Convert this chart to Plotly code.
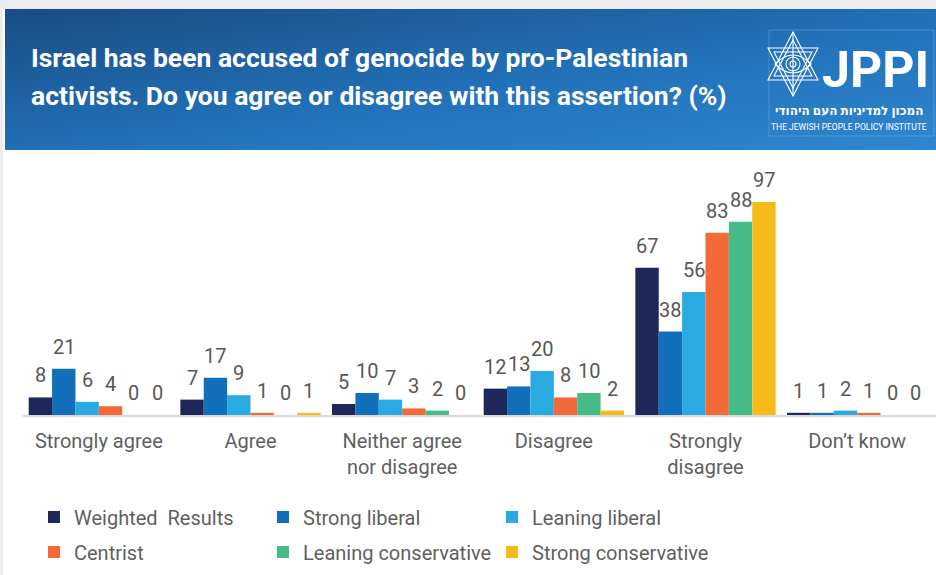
import base64
import plotly.graph_objects as go

W, H = 936, 575

categories = ["Strongly agree", "Agree", "Neither agree<br>nor disagree",
              "Disagree", "Strongly<br>disagree", "Don’t know"]

weighted_results = [8, 7, 5, 12, 67, 1]
strong_liberal = [21, 17, 10, 13, 38, 1]
leaning_liberal = [6, 9, 7, 20, 56, 2]
centrist = [4, 1, 3, 8, 83, 1]
leaning_conservative = [0, 0, 2, 10, 88, 0]
strong_conservative = [0, 1, 0, 2, 97, 0]

series_names = ["Weighted  Results", "Strong liberal", "Leaning liberal",
                "Centrist", "Leaning conservative", "Strong conservative"]
series_values = [weighted_results, strong_liberal, leaning_liberal,
                 centrist, leaning_conservative, strong_conservative]
series_colors = ["#1e2759", "#1170b9", "#29abe2", "#f26a38", "#47bb87", "#f5bb1b"]

# plot area in pixels
L, R, T, B = 23, 933, 160, 415
PX_PER_UNIT = 2.197
Y_MAX = (B - T) / PX_PER_UNIT
BARGAP = 0.075


def px(x):
    return (x - L) / (R - L)


def py(y):
    return (B - y) / (B - T)


fig = go.Figure()
for i, (name, vals, col) in enumerate(zip(series_names, series_values, series_colors)):
    fig.add_trace(go.Bar(
        x=categories, y=vals, name=name,
        marker=dict(color=col, line=dict(width=0)),
        legend="legend" if i < 3 else "legend2",
        hoverinfo="x+y+name",
    ))

# value labels above each bar, offset to the bar's slot within its group
n_series = len(series_values)
slot_px = (R - L) / len(categories) * (1 - BARGAP) / n_series
label_annotations = []
for i, vals in enumerate(series_values):
    for cat, v in zip(categories, vals):
        label_annotations.append(dict(
            text=str(v), x=cat, y=v, xref="x", yref="y",
            xanchor="center", yanchor="bottom", showarrow=False,
            xshift=(i - (n_series - 1) / 2) * slot_px, yshift=8,
            font=dict(family="Roboto", size=20, color="#575757"),
        ))

# header gradient band
svg = (
    "<svg xmlns='http://www.w3.org/2000/svg' width='931' height='141' viewBox='0 0 931 141' "
    "preserveAspectRatio='none'>"
    "<defs><linearGradient id='g' x1='0' y1='0' x2='1' y2='1'>"
    "<stop offset='0' stop-color='#1a4c84'/>"
    "<stop offset='0.55' stop-color='#2272ba'/>"
    "<stop offset='1' stop-color='#2f87d0'/>"
    "</linearGradient></defs>"
    "<rect width='931' height='141' fill='url(#g)'/>"
    "</svg>"
)
star_svg = (
    "<svg xmlns='http://www.w3.org/2000/svg' width='52' height='66' viewBox='0 0 52 66'>"
    "<g fill='none' stroke='white' stroke-width='1.1'>"
    "<polygon points='26,1 51,49 1,49'/>"
    "<polygon points='26,65 51,17 1,17'/>"
    "<polygon points='26,9 45,45 7,45'/>"
    "<polygon points='26,57 45,21 7,21'/>"
    "<path d='M8,33 Q26,15 44,33 Q26,51 8,33 Z'/>"
    "<circle cx='26' cy='33' r='7'/>"
    "<circle cx='26' cy='33' r='3'/>"
    "<line x1='26' y1='1' x2='26' y2='65'/>"
    "</g></svg>"
)


def data_uri(s):
    return "data:image/svg+xml;base64," + base64.b64encode(s.encode()).decode()


fig.add_layout_image(dict(
    source=data_uri(svg), xref="paper", yref="paper",
    x=px(5), y=py(9), sizex=px(936) - px(5), sizey=py(9) - py(150),
    xanchor="left", yanchor="top", sizing="stretch", layer="below",
))
fig.add_layout_image(dict(
    source=data_uri(star_svg), xref="paper", yref="paper",
    x=px(767), y=py(31), sizex=px(819) - px(767), sizey=py(31) - py(97),
    xanchor="left", yanchor="top", sizing="stretch", layer="above",
))

shapes = [
    # light frame around the page
    dict(type="rect", xref="paper", yref="paper", x0=px(0), x1=px(936), y0=py(0), y1=py(9),
         fillcolor="#ecebf0", line=dict(width=0), layer="below"),
    dict(type="rect", xref="paper", yref="paper", x0=px(0), x1=px(3), y0=py(0), y1=py(575),
         fillcolor="#ecebf0", line=dict(width=0), layer="below"),
    # logo frame
    dict(type="rect", xref="paper", yref="paper", x0=px(769), x1=px(934), y0=py(30), y1=py(136),
         fillcolor="rgba(0,0,0,0)", line=dict(width=1, color="rgba(255,255,255,0.18)")),
    # baseline running to the right edge, beneath the bars
    dict(type="line", xref="paper", yref="paper", x0=px(23), x1=px(936), y0=py(416), y1=py(416),
         line=dict(width=2, color="#d9d9d9"), layer="below"),
]

annotations = [
    dict(text="<b>Israel has been accused of genocide by pro-Palestinian</b>",
         x=px(29), y=py(57), xref="paper", yref="paper", xanchor="left", yanchor="middle",
         showarrow=False, font=dict(family="Roboto", size=26.5, color="white")),
    dict(text="<b>activists. Do you agree or disagree with this assertion? (%)</b>",
         x=px(29), y=py(95), xref="paper", yref="paper", xanchor="left", yanchor="middle",
         showarrow=False, font=dict(family="Roboto", size=26.5, color="white")),
    dict(text="<b>JPPI</b>", x=px(820), y=py(70), xref="paper", yref="paper",
         xanchor="left", yanchor="middle", showarrow=False,
         font=dict(family="Roboto", size=50, color="white")),
    dict(text="<b>המכון למדיניות העם היהודי</b>", x=px(849), y=py(110), xref="paper", yref="paper",
         xanchor="center", yanchor="middle", showarrow=False,
         font=dict(family="Noto Sans, DejaVu Sans", size=12, color="white")),
    dict(text="THE JEWISH PEOPLE POLICY INSTITUTE", x=px(849), y=py(127), xref="paper", yref="paper",
         xanchor="center", yanchor="middle", showarrow=False,
         font=dict(family="Roboto", size=8.5, color="white")),
] + label_annotations

legend_common = dict(orientation="h", xanchor="left", yanchor="middle",
                     entrywidth=184, entrywidthmode="pixels", itemwidth=30,
                     bgcolor="rgba(0,0,0,0)", itemclick=False, itemdoubleclick=False,
                     font=dict(family="Roboto", size=20, color="#5f5f5f"))

fig.update_layout(
    width=W, height=H,
    margin=dict(l=L, r=W - R, t=T, b=H - B, pad=0),
    paper_bgcolor="white", plot_bgcolor="rgba(0,0,0,0)",
    barmode="group", bargap=BARGAP, bargroupgap=0,
    showlegend=True,
    legend=dict(x=px(34), y=py(517), **legend_common),
    legend2=dict(x=px(34), y=py(552), **legend_common),
    shapes=shapes, annotations=annotations,
    xaxis=dict(showline=False, ticks="", ticklabelstandoff=12,
               tickfont=dict(family="Roboto", size=20, color="#5f5f5f"),
               showgrid=False, fixedrange=True),
    yaxis=dict(range=[0, Y_MAX], visible=False, showgrid=False, fixedrange=True),
    font=dict(family="Roboto"),
)

fig.write_html("out.html")
